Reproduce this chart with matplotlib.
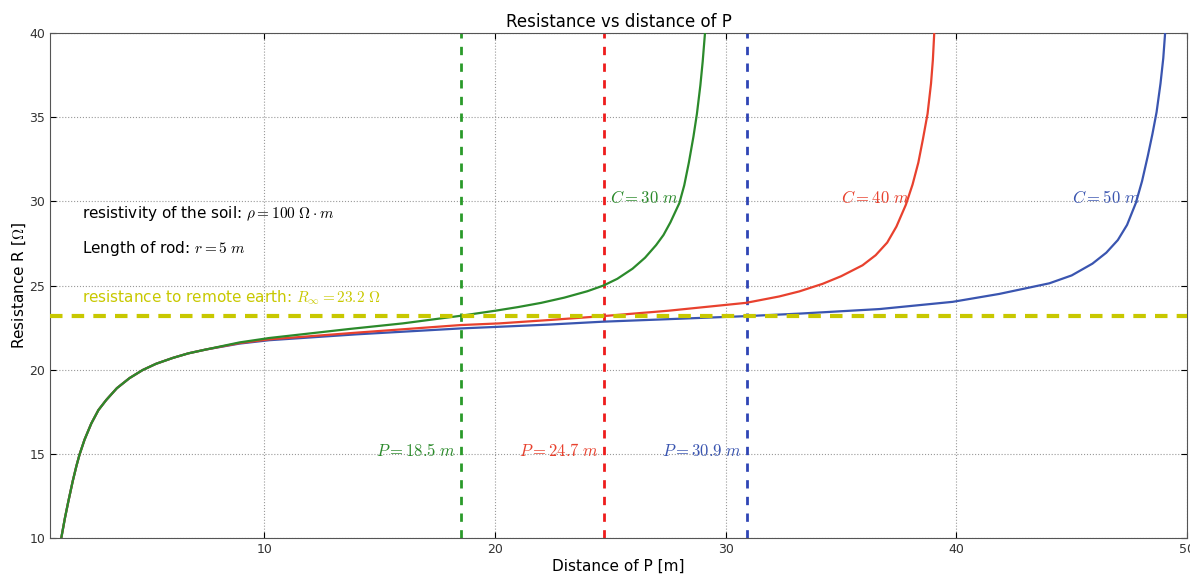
import matplotlib
matplotlib.use('Agg')
import matplotlib.pyplot as plt

plt.rcParams['mathtext.fontset'] = 'cm'

# shared near-field part (all three curves overlap here)
p_near = [1.19, 1.35, 1.5, 1.69, 1.85, 1.98, 2.2, 2.49, 2.8, 3.14, 3.6, 4.15, 4.72, 5.3, 6.03, 6.7, 7.47]
r_near = [10.0, 11.2, 12.2, 13.4, 14.3, 14.95, 15.85, 16.8, 17.6, 18.2, 18.9, 19.5, 19.98, 20.35, 20.7, 20.97, 21.2]

# C = 30 m
p_c30 = [8.92, 10.2, 13.7, 16.0, 18.5, 20.0, 21.0, 22.0, 23.0, 24.0, 24.7, 25.3, 25.96, 26.5, 26.98,
         27.3, 27.6, 27.99, 28.2, 28.4, 28.6, 28.75, 28.9, 29.0, 29.1]
r_c30 = [21.62, 21.88, 22.42, 22.75, 23.2, 23.5, 23.72, 23.97, 24.28, 24.66, 25.0, 25.4, 26.0, 26.65, 27.4,
         28.0, 28.75, 29.9, 30.95, 32.3, 33.85, 35.2, 36.9, 38.3, 40.0]

# C = 40 m
p_c40 = [8.92, 10.2, 14.0, 18.5, 20.19, 22.35, 24.66, 27.5, 30.88, 32.32, 33.19, 34.2, 35.0, 35.93,
         36.5, 37.0, 37.4, 37.81, 38.1, 38.35, 38.55, 38.75, 38.9, 38.98, 39.04]
r_c40 = [21.58, 21.8, 22.2, 22.65, 22.75, 22.95, 23.18, 23.5, 23.97, 24.35, 24.65, 25.1, 25.55, 26.2,
         26.8, 27.55, 28.5, 29.8, 31.0, 32.3, 33.7, 35.2, 37.0, 38.4, 40.0]

# C = 50 m
p_c50 = [8.92, 10.2, 14.0, 18.5, 20.19, 22.35, 24.66, 27.5, 30.88, 33.19, 36.66, 39.84, 41.86, 44.03,
         45.0, 45.9, 46.5, 47.0, 47.4, 47.78, 48.05, 48.3, 48.5, 48.68, 48.85, 48.97, 49.05]
r_c50 = [21.55, 21.75, 22.1, 22.45, 22.55, 22.68, 22.85, 23.0, 23.18, 23.33, 23.6, 24.03, 24.5, 25.13,
         25.6, 26.3, 26.95, 27.7, 28.6, 29.9, 31.2, 32.7, 34.0, 35.3, 37.0, 38.5, 40.0]

r_inf = 23.2
p_marks = [18.5, 24.7, 30.9]
c_values = [30, 40, 50]

green = '#2b8a2b'
red = '#e8412e'
blue = '#3a55b0'
vgreen = '#2a9a2a'
vred = '#ee1c1c'
vblue = '#2f45b5'
yellow = '#c8c800'

fig = plt.figure(figsize=(11.9, 5.74), dpi=100)
ax = fig.add_axes([0.042, 0.0627, 0.9555, 0.8798])

for pm, col in zip(p_marks, [vgreen, vred, vblue]):
    ax.axvline(pm, color=col, lw=2, ls=(0, (3, 3)), zorder=2)

ax.plot(p_near + p_c50, r_near + r_c50, color=blue, lw=1.6, zorder=3)
ax.plot(p_near + p_c40, r_near + r_c40, color=red, lw=1.6, zorder=3)
ax.plot(p_near + p_c30, r_near + r_c30, color=green, lw=1.6, zorder=3)

ax.axhline(r_inf, color=yellow, lw=3, ls=(0, (3, 2.2)), zorder=4)

# annotations
ax.text(2.07, 29.25, r'resistivity of the soil: $\rho = 100\ \Omega \cdot m$', fontsize=11, va='center')
ax.text(2.07, 27.2, r'Length of rod: $r = 5\ m$', fontsize=11, va='center')
ax.text(2.07, 24.25, r'resistance to remote earth: $R_{\infty} = 23.2\ \Omega$', fontsize=11,
        va='center', color=yellow)

for pm, col in zip(p_marks, [green, red, blue]):
    ax.text(pm - 0.2, 15.15, r'$P = %.1f\ m$' % pm, color=col, fontsize=12, ha='right', va='center')

for c, col in zip(c_values, [green, red, blue]):
    ax.text(c - 5, 30.2, r'$C = %d\ m$' % c, color=col, fontsize=12, ha='left', va='center')

ax.set_xlim(0.7, 50)
ax.set_ylim(10, 40)
ax.set_xticks([10, 20, 30, 40, 50])
ax.set_yticks([10, 15, 20, 25, 30, 35, 40])
ax.tick_params(direction='in', top=True, right=True, labelsize=9, labelcolor='#333333', length=4)
ax.grid(True, ls=':', color='#999999', lw=0.8)
for s in ax.spines.values():
    s.set_color('#555555')

ax.set_title('Resistance vs distance of P', fontsize=12, pad=4)
ax.set_xlabel('Distance of P [m]', fontsize=11, labelpad=2)
ax.set_ylabel(r'Resistance R [$\Omega$]', fontsize=11, labelpad=1)

fig.savefig('out.png', dpi=100)
